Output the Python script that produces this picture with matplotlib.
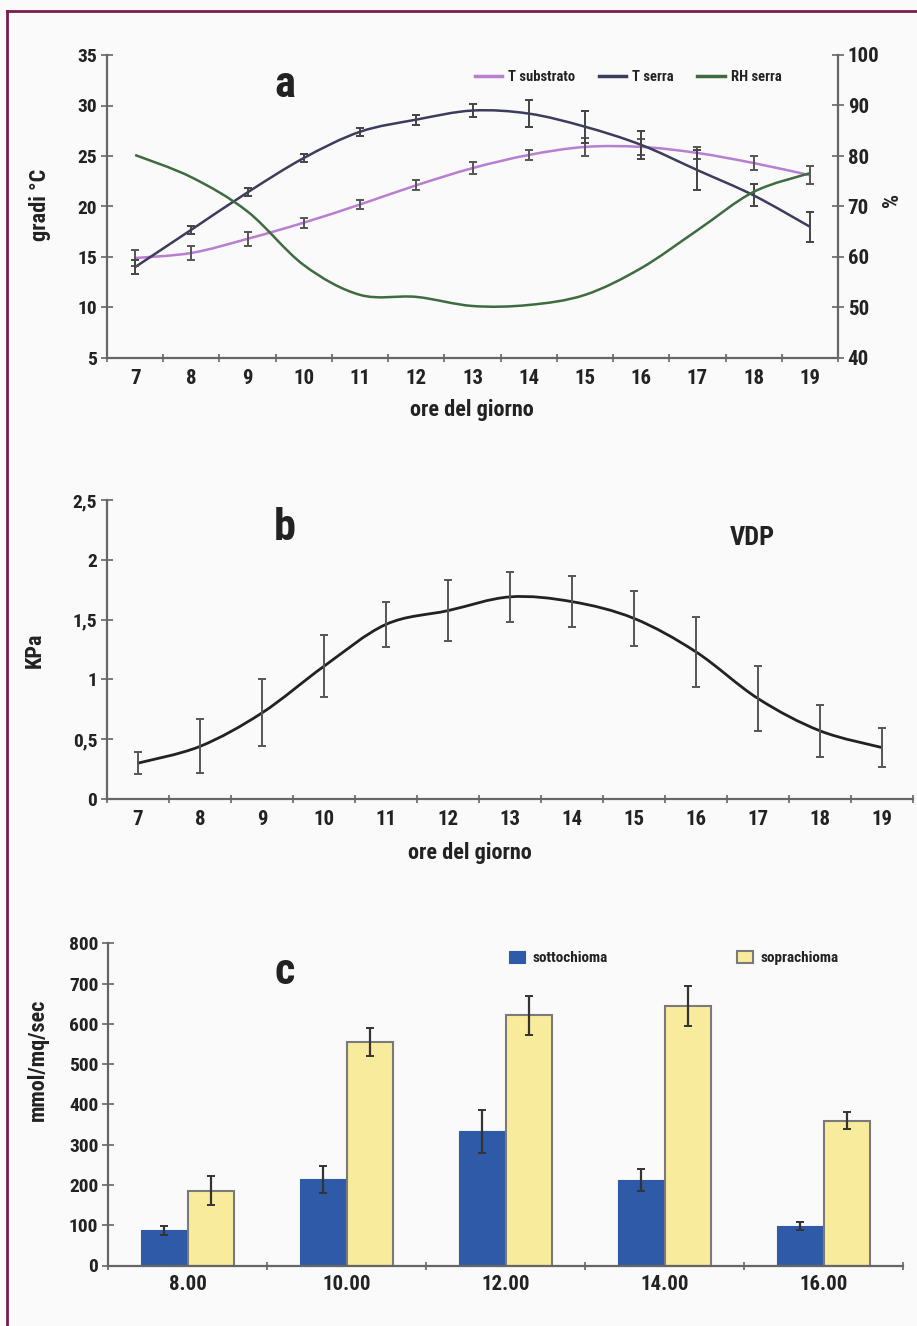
import matplotlib
matplotlib.use('Agg')
import matplotlib.pyplot as plt
from matplotlib.path import Path
from matplotlib.patches import PathPatch
from matplotlib.lines import Line2D
import numpy as np

plt.rcParams['font.family'] = ['Roboto Condensed', 'DejaVu Sans']
plt.rcParams['font.weight'] = 'bold'

# --- dati pannello a ---
ore = [7, 8, 9, 10, 11, 12, 13, 14, 15, 16, 17, 18, 19]
t_substrato = [14.9, 15.4, 16.8, 18.4, 20.2, 22.1, 23.8, 25.1, 25.9, 25.9, 25.3, 24.3, 23.1]
t_substrato_err = [0.8, 0.7, 0.7, 0.5, 0.4, 0.5, 0.6, 0.5, 0.9, 0.8, 0.6, 0.7, 0.9]
t_serra = [14.0, 17.7, 21.4, 24.8, 27.4, 28.6, 29.5, 29.2, 27.9, 26.1, 23.6, 21.1, 18.0]
t_serra_err = [0.7, 0.4, 0.4, 0.4, 0.4, 0.5, 0.6, 1.3, 1.6, 1.4, 2.0, 1.1, 1.5]
rh_serra = [80.2, 75.8, 69.0, 58.4, 52.5, 52.1, 50.3, 50.5, 52.5, 57.8, 65.3, 72.9, 76.6]

# --- dati pannello b ---
vdp = [0.30, 0.44, 0.72, 1.11, 1.46, 1.575, 1.69, 1.65, 1.51, 1.23, 0.84, 0.57, 0.43]
vdp_err = [0.095, 0.225, 0.28, 0.26, 0.19, 0.255, 0.21, 0.215, 0.23, 0.29, 0.27, 0.215, 0.16]

# --- dati pannello c ---
orari = ['8.00', '10.00', '12.00', '14.00', '16.00']
sottochioma = [87, 214, 333, 213, 98]
sottochioma_err = [12, 33, 53, 27, 11]
soprachioma = [186, 554, 621, 644, 359]
soprachioma_err = [35, 35, 49, 50, 21]

AXC = '#666666'
TXT = '#222222'


def curva(x, y):
    # linea smussata (tipo Excel) con curve di Bezier
    n = len(x)
    verts = [(x[0], y[0])]
    codes = [Path.MOVETO]
    for i in range(n - 1):
        x0, y0 = (x[i - 1], y[i - 1]) if i > 0 else (x[i], y[i])
        x3, y3 = (x[i + 2], y[i + 2]) if i + 2 < n else (x[i + 1], y[i + 1])
        c1 = (x[i] + (x[i + 1] - x0) / 6, y[i] + (y[i + 1] - y0) / 6)
        c2 = (x[i + 1] - (x3 - x[i]) / 6, y[i + 1] - (y3 - y[i]) / 6)
        verts += [c1, c2, (x[i + 1], y[i + 1])]
        codes += [Path.CURVE4] * 3
    return Path(verts, codes)


def stile_assi(ax, n_cat):
    for s in ['top', 'right']:
        ax.spines[s].set_visible(False)
    for s in ['left', 'bottom']:
        ax.spines[s].set_color(AXC)
        ax.spines[s].set_linewidth(1.6)
    ax.set_facecolor('none')
    ax.set_xlim(-0.5, n_cat - 0.5)
    ax.set_xticks(np.arange(-0.5, n_cat, 1.0))
    ax.set_xticklabels([])
    ax.tick_params(axis='x', which='major', direction='inout', length=6, width=1.2, color=AXC)
    ax.tick_params(axis='y', direction='inout', length=8, width=1.2, color=AXC,
                   labelsize=14, labelcolor=TXT, pad=3)


fig = plt.figure(figsize=(9.17, 13.26), dpi=100, facecolor='#fafafa')

# bordo
fig.add_artist(Line2D([7 / 917, 7 / 917], [-0.1, 1 - 11 / 1326], transform=fig.transFigure,
                      color='#7a1d4c', lw=2))
fig.add_artist(Line2D([7 / 917, 1.1], [1 - 11 / 1326, 1 - 11 / 1326], transform=fig.transFigure,
                      color='#7a1d4c', lw=2))

# ---------------- pannello a ----------------
axa = fig.add_axes([107 / 917, 1 - 358 / 1326, 731 / 917, 303 / 1326])
stile_assi(axa, len(ore))
xa = np.arange(len(ore))
axa.set_ylim(5, 35)
axa.set_yticks(range(5, 36, 5))
axa.set_xticks(xa, [str(o) for o in ore], minor=True)
axa.tick_params(axis='x', which='minor', length=0, labelsize=15, labelcolor=TXT, pad=8)

axb2 = axa.twinx()
axb2.set_ylim(40, 100)
axb2.set_yticks(range(40, 101, 10))
for s in ['top', 'left', 'bottom']:
    axb2.spines[s].set_visible(False)
axb2.spines['right'].set_color(AXC)
axb2.spines['right'].set_linewidth(1.6)
axb2.tick_params(axis='y', direction='inout', length=8, width=1.2, color=AXC,
                 labelsize=15, labelcolor=TXT, pad=3)

c_sub = '#b87ed0'
c_ser = '#3c3c5e'
c_rh = '#3f6b40'
axb2.add_patch(PathPatch(curva(xa, rh_serra), fill=False, edgecolor=c_rh, lw=1.8))
axa.add_patch(PathPatch(curva(xa, t_substrato), fill=False, edgecolor=c_sub, lw=1.8, zorder=3))
axa.add_patch(PathPatch(curva(xa, t_serra), fill=False, edgecolor=c_ser, lw=1.8, zorder=3))
axa.errorbar(xa, t_substrato, yerr=t_substrato_err, fmt='none', ecolor='#555555',
             elinewidth=1.4, capsize=3, capthick=1.4, zorder=4)
axa.errorbar(xa, t_serra, yerr=t_serra_err, fmt='none', ecolor='#444444',
             elinewidth=1.4, capsize=3, capthick=1.4, zorder=4)

fig.legend(handles=[Line2D([], [], color=c_sub, lw=2.5, label='T substrato'),
                    Line2D([], [], color=c_ser, lw=2.5, label='T serra'),
                    Line2D([], [], color=c_rh, lw=2.5, label='RH serra')],
           loc='center', bbox_to_anchor=(628 / 917, 1 - 77 / 1326), ncol=3, frameon=False,
           prop={'size': 10.5, 'weight': 'bold'}, handlelength=1.9, handletextpad=0.4,
           columnspacing=1.6, labelcolor=TXT)

fig.text(40 / 917, 1 - 205 / 1326, 'gradi °C', rotation=90, ha='center', va='center',
         fontsize=16, color=TXT)
fig.text(892 / 917, 1 - 200 / 1326, '%', rotation=90, ha='center', va='center',
         fontsize=16, color=TXT)
fig.text(472 / 917, 1 - 410 / 1326, 'ore del giorno', ha='center', va='center',
         fontsize=16, color=TXT)
fig.text(285 / 917, 1 - 85 / 1326, 'a', ha='center', va='center', fontsize=32, color=TXT)

# ---------------- pannello b ----------------
axb = fig.add_axes([107 / 917, 1 - 799 / 1326, 806 / 917, 299 / 1326])
stile_assi(axb, len(ore))
axb.set_ylim(0, 2.5)
axb.set_yticks([0, 0.5, 1, 1.5, 2, 2.5], ['0', '0,5', '1', '1,5', '2', '2,5'])
axb.set_xticks(xa, [str(o) for o in ore], minor=True)
axb.tick_params(axis='x', which='minor', length=0, labelsize=15, labelcolor=TXT, pad=8)
axb.add_patch(PathPatch(curva(xa, vdp), fill=False, edgecolor='#222222', lw=2, zorder=3))
axb.errorbar(xa, vdp, yerr=vdp_err, fmt='none', ecolor='#555555',
             elinewidth=1.4, capsize=3, capthick=1.4, zorder=4)

fig.text(35 / 917, 1 - 650 / 1326, 'KPa', rotation=90, ha='center', va='center',
         fontsize=16, color=TXT)
fig.text(470 / 917, 1 - 853 / 1326, 'ore del giorno', ha='center', va='center',
         fontsize=16, color=TXT)
fig.text(285 / 917, 1 - 528 / 1326, 'b', ha='center', va='center', fontsize=32, color=TXT)
fig.text(752 / 917, 1 - 538 / 1326, 'VDP', ha='center', va='center', fontsize=19, color=TXT)

# ---------------- pannello c ----------------
axc = fig.add_axes([108 / 917, 1 - 1265.5 / 1326, 795 / 917, 322.2 / 1326])
stile_assi(axc, len(orari))
axc.set_ylim(0, 800)
axc.set_yticks(range(0, 801, 100))
xc = np.arange(len(orari))
w = 0.29
axc.bar(xc - w / 2, sottochioma, w, color='#2f5aa8', edgecolor='#2f5aa8', lw=0.8,
        yerr=sottochioma_err, ecolor='#333333',
        error_kw=dict(elinewidth=1.6, capsize=3, capthick=1.4), label='sottochioma', zorder=2)
axc.bar(xc + w / 2, soprachioma, w, color='#f8ec9c', edgecolor='#7a7a7a', lw=1.5,
        yerr=soprachioma_err, ecolor='#333333',
        error_kw=dict(elinewidth=1.6, capsize=3, capthick=1.4), label='soprachioma', zorder=2)
axc.set_xticks(xc, orari, minor=True)
axc.tick_params(axis='x', which='minor', length=0, labelsize=15, labelcolor=TXT, pad=7)

fig.legend(*axc.get_legend_handles_labels(), loc='center',
           bbox_to_anchor=(674 / 917, 1 - 958 / 1326), ncol=2, frameon=False,
           prop={'size': 11, 'weight': 'bold'}, handlelength=1.0, handleheight=0.8,
           handletextpad=0.5, columnspacing=8.5, labelcolor=TXT)

fig.text(38 / 917, 1 - 1060 / 1326, 'mmol/mq/sec', rotation=90, ha='center', va='center',
         fontsize=16, color=TXT)
fig.text(285 / 917, 1 - 972 / 1326, 'c', ha='center', va='center', fontsize=32, color=TXT)

fig.savefig('out.png', dpi=100, facecolor=fig.get_facecolor())
